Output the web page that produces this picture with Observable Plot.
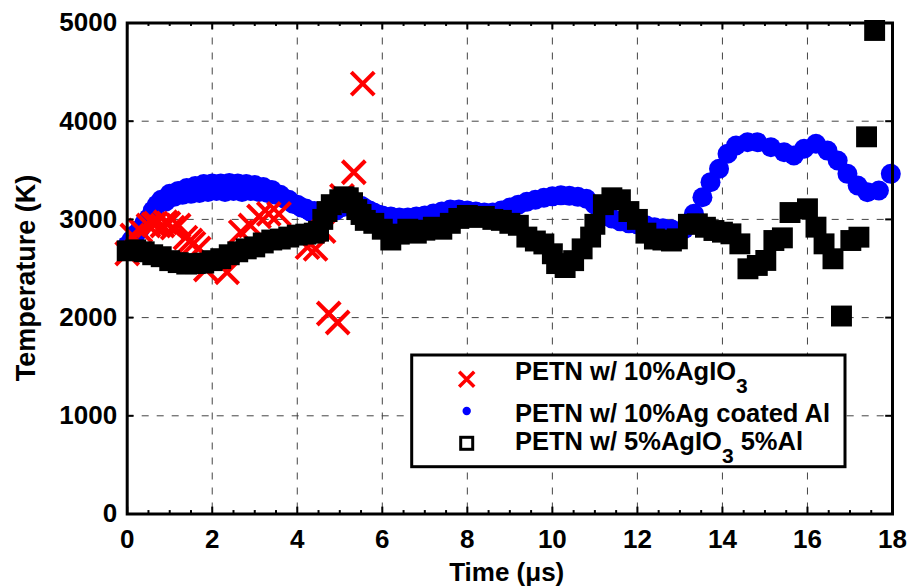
<!DOCTYPE html>
<html>
<head>
<meta charset="utf-8">
<script src="https://cdn.jsdelivr.net/npm/d3@7"></script>
<script src="https://cdn.jsdelivr.net/npm/@observablehq/plot@0.6"></script>
<style>
  html, body { margin: 0; padding: 0; background: #fff; }
</style>
</head>
<body>
<div id="chart"></div>
<script>
// ---- Data ----
// PETN w/ 10%AgIO3  (red crosses)
const agio3Time = [0, 0.12, 0.31, 0.5, 0.62, 0.67, 0.83, 0.9, 0.97, 1.07, 1.21, 1.37, 1.49, 1.56, 1.68, 1.85, 2.35, 2.67, 2.9, 3.1, 3.33, 3.57, 4.24, 4.43, 4.62, 4.74, 4.95, 5.05, 5.33, 5.54];
const agio3Temp = [2653, 2836, 2887, 2938, 2950, 2958, 2938, 2971, 2958, 2917, 2938, 2815, 2785, 2754, 2704, 2490, 2462, 2870, 2938, 3030, 3057, 3057, 2717, 2700, 2880, 2042, 1950, 3240, 3480, 4383];

// PETN w/ 10%Ag coated Al  (blue dots)
const agAlTime = [0, 0.1, 0.2, 0.3, 0.4, 0.5, 0.6, 0.7, 0.8, 0.9, 1.0, 1.1, 1.2, 1.3, 1.4, 1.5, 1.6, 1.7, 1.8, 1.9, 2.0, 2.1, 2.2, 2.3, 2.4, 2.5, 2.6, 2.7, 2.8, 2.9, 3.0, 3.1, 3.2, 3.3, 3.4, 3.5, 3.6, 3.7, 3.8, 3.9, 4.0, 4.1, 4.2, 4.3, 4.4, 4.5, 4.6, 4.7, 4.8, 4.9, 5.0, 5.1, 5.2, 5.3, 5.4, 5.5, 5.6, 5.7, 5.8, 5.9, 6.0, 6.2, 6.4, 6.6, 6.8, 7.0, 7.2, 7.4, 7.6, 7.8, 8.0, 8.2, 8.4, 8.6, 8.8, 9.0, 9.2, 9.4, 9.6, 9.8, 10.0, 10.2, 10.4, 10.6, 10.8, 11.0, 11.2, 11.4, 11.6, 11.8, 12.0, 12.2, 12.4, 12.6, 12.8, 13.0, 13.1, 13.2, 13.33, 13.53, 13.72, 13.92, 14.12, 14.32, 14.59, 14.82, 15.14, 15.45, 15.68, 15.92, 16.2, 16.47, 16.71, 16.94, 17.18, 17.41, 17.68, 17.96];
const agAlTemp = [2735, 2790, 2850, 2900, 2960, 3010, 3090, 3150, 3200, 3180, 3260, 3230, 3290, 3250, 3320, 3260, 3340, 3270, 3360, 3280, 3365, 3290, 3365, 3280, 3370, 3290, 3365, 3280, 3360, 3290, 3350, 3280, 3330, 3270, 3300, 3250, 3250, 3210, 3200, 3160, 3150, 3120, 3110, 3080, 3085, 3060, 3070, 3040, 3080, 3090, 3120, 3130, 3150, 3170, 3150, 3140, 3110, 3090, 3070, 3050, 3040, 3030, 3020, 3020, 3030, 3040, 3060, 3080, 3100, 3100, 3090, 3080, 3070, 3070, 3090, 3120, 3150, 3180, 3200, 3220, 3235, 3245, 3240, 3230, 3210, 3150, 3080, 3010, 2980, 2960, 2950, 2940, 2920, 2910, 2900, 2880, 2900, 2960, 3057, 3226, 3379, 3515, 3668, 3752, 3786, 3786, 3735, 3684, 3651, 3719, 3770, 3701, 3600, 3464, 3345, 3277, 3294, 3464];

// PETN w/ 5%AgIO3 5%Al  (black squares)
const mixTime = [0, 0.2, 0.4, 0.6, 0.8, 1.0, 1.2, 1.4, 1.6, 1.8, 2.0, 2.2, 2.4, 2.6, 2.8, 3.0, 3.2, 3.4, 3.6, 3.8, 4.0, 4.2, 4.4, 4.5, 4.6, 4.7, 4.8, 5.0, 5.1, 5.2, 5.3, 5.4, 5.5, 5.6, 5.8, 6.0, 6.2, 6.4, 6.6, 6.8, 7.0, 7.2, 7.4, 7.6, 7.8, 8.0, 8.2, 8.4, 8.6, 8.8, 9.0, 9.2, 9.4, 9.6, 9.8, 10.0, 10.1, 10.3, 10.5, 10.7, 10.9, 11.0, 11.2, 11.4, 11.6, 11.8, 12.0, 12.2, 12.4, 12.6, 12.8, 12.94, 13.2, 13.41, 13.6, 13.8, 14.0, 14.2, 14.41, 14.6, 14.82, 15.02, 15.21, 15.41, 15.59, 16.0, 16.2, 16.39, 16.6, 16.8, 17.02, 17.21, 17.39, 17.58];
const mixTemp = [2680, 2690, 2670, 2640, 2620, 2580, 2560, 2545, 2550, 2555, 2580, 2600, 2640, 2670, 2700, 2720, 2760, 2790, 2800, 2820, 2840, 2850, 2860, 2880, 3000, 3080, 3150, 3200, 3230, 3220, 3170, 3100, 3050, 2990, 2960, 2900, 2790, 2850, 2900, 2860, 2890, 2920, 2900, 2960, 3010, 3040, 3020, 3030, 3000, 2990, 2960, 2940, 2820, 2780, 2750, 2650, 2550, 2510, 2580, 2700, 2820, 2950, 3150, 3220, 3200, 3080, 3000, 2860, 2800, 2790, 2780, 2802, 2950, 2955, 2920, 2887, 2870, 2853, 2751, 2497, 2531, 2582, 2785, 2812, 3070, 3108, 2921, 2751, 2599, 2016, 2785, 2819, 3841, 4924];

// Axis ticks
const xTicks = [0, 2, 4, 6, 8, 10, 12, 14, 16, 18];
const xMinor = [0.5, 1, 1.5, 2.5, 3, 3.5, 4.5, 5, 5.5, 6.5, 7, 7.5, 8.5, 9, 9.5, 10.5, 11, 11.5, 12.5, 13, 13.5, 14.5, 15, 15.5, 16.5, 17, 17.5];
const yTicks = [0, 1000, 2000, 3000, 4000, 5000];
const seriesNames = ["PETN w/ 10%AgIO", "PETN w/ 10%Ag coated Al", "PETN w/ 5%AgIO"];

// ---- Build tables ----
const agio3 = agio3Time.map((t, i) => ({t, T: agio3Temp[i]}));
const agAl = agAlTime.map((t, i) => ({t, T: agAlTemp[i]}));
const mix = mixTime.map((t, i) => ({t, T: mixTemp[i]}));

const FONT = "'Liberation Sans', Arial, Helvetica, sans-serif";

const chart = Plot.plot({
  width: 911,
  height: 588,
  marginLeft: 126.7,
  marginRight: 19,
  marginTop: 22.5,
  marginBottom: 74.5,
  style: {fontFamily: FONT, fontWeight: "bold", fontSize: "26px", color: "black", background: "white", overflow: "visible"},
  x: {domain: [0, 18], label: null},
  y: {domain: [0, 5000], label: null},
  marks: [
    Plot.gridX(xTicks.slice(1, -1), {stroke: "#444", strokeOpacity: 1, strokeWidth: 1, strokeDasharray: "7,8"}),
    Plot.gridY(yTicks.slice(1, -1), {stroke: "#444", strokeOpacity: 1, strokeWidth: 1, strokeDasharray: "7,8"}),
    Plot.dot(agAl, {x: "t", y: "T", r: 10, fill: "#0000ff", stroke: "none"}),
    Plot.dot(agio3, {x: "t", y: "T", symbol: "times", r: 10.5, stroke: "#ff0000", strokeWidth: 4}),
    Plot.dot(mix, {x: "t", y: "T", symbol: "square", r: 11.8, fill: "black", stroke: "none"}),
    // inward tick marks
    Plot.ruleX(xTicks, {x: d => d, y1: 0, y2: 70, stroke: "black", strokeWidth: 2}),
    Plot.ruleX(xTicks, {x: d => d, y1: 5000, y2: 4930, stroke: "black", strokeWidth: 2}),
    Plot.ruleX(xMinor, {x: d => d, y1: 0, y2: 35, stroke: "black", strokeWidth: 2}),
    Plot.ruleX(xMinor, {x: d => d, y1: 5000, y2: 4965, stroke: "black", strokeWidth: 2}),
    Plot.ruleY(yTicks, {y: d => d, x1: 0, x2: 0.16, stroke: "black", strokeWidth: 2}),
    Plot.ruleY(yTicks, {y: d => d, x1: 18, x2: 17.84, stroke: "black", strokeWidth: 2}),
    Plot.frame({stroke: "black", strokeWidth: 3}),
    Plot.axisX({ticks: xTicks, tickSize: 0, tickPadding: 16, label: null, tickFormat: d => String(d)}),
    Plot.axisY({ticks: yTicks, tickSize: 0, tickPadding: 10, label: null, tickFormat: d => String(d)})
  ]
});

document.getElementById("chart").appendChild(chart);

// ---- Axis titles and legend ----
const svg = d3.select(chart);

svg.append("text")
  .attr("x", 506.7).attr("y", 581)
  .attr("text-anchor", "middle")
  .attr("font-family", FONT).attr("font-weight", "bold").attr("font-size", 26)
  .attr("fill", "black")
  .text("Time (\u03BCs)");

svg.append("text")
  .attr("transform", "translate(35,278) rotate(-90)")
  .attr("text-anchor", "middle")
  .attr("font-family", FONT).attr("font-weight", "bold").attr("font-size", 27)
  .attr("fill", "black")
  .text("Temperature (K)");

const lg = svg.append("g").attr("text-anchor", "start");
lg.append("rect")
  .attr("x", 411.7).attr("y", 355).attr("width", 433.3).attr("height", 111.7)
  .attr("fill", "white").attr("stroke", "black").attr("stroke-width", 3);

// markers
lg.append("path")
  .attr("transform", "translate(466.7,379.3)")
  .attr("d", d3.symbol(d3.symbolTimes, 150)())
  .attr("fill", "none").attr("stroke", "#ff0000").attr("stroke-width", 3.5);
lg.append("circle")
  .attr("cx", 466.7).attr("cy", 411).attr("r", 4.2).attr("fill", "#0000ff");
lg.append("rect")
  .attr("x", 466.7 - 6).attr("y", 443.3 - 6).attr("width", 12).attr("height", 12)
  .attr("fill", "none").attr("stroke", "black").attr("stroke-width", 3);

function legendText(y, main, sub, rest) {
  const t = lg.append("text")
    .attr("x", 515).attr("y", y)
    .attr("text-anchor", "start")
    .attr("font-family", FONT).attr("font-weight", "bold").attr("font-size", 25.5)
    .attr("fill", "black");
  t.append("tspan").text(main);
  if (sub) {
    t.append("tspan").attr("dy", 13).attr("font-size", 21).text(sub);
    if (rest) t.append("tspan").attr("dy", -13).text(rest);
  }
}
legendText(380, seriesNames[0], "3", null);
legendText(421.7, seriesNames[1], null, null);
legendText(450, seriesNames[2], "3", " 5%Al");
</script>
</body>
</html>
